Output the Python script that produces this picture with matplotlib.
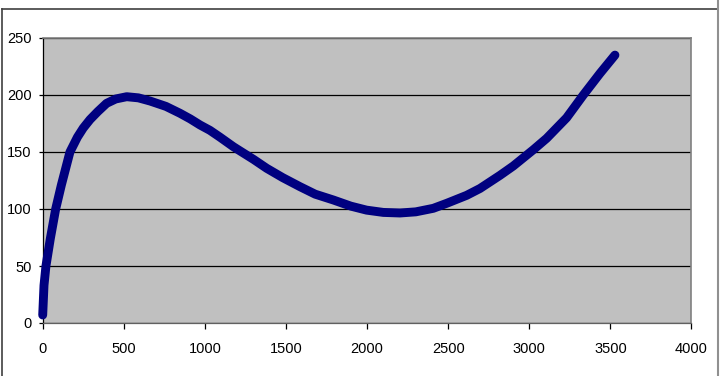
import matplotlib
matplotlib.use("Agg")
import matplotlib.pyplot as plt
from matplotlib.lines import Line2D

x_vals = [0, 8, 20, 47, 80, 115, 168, 214, 250, 292, 340, 394, 450, 518, 590,
          662, 760, 846, 910, 970, 1031, 1093, 1175, 1216, 1300, 1381, 1480,
          1586, 1680, 1792, 1900, 1997, 2100, 2203, 2300, 2408, 2491, 2614,
          2696, 2819, 2901, 3025, 3107, 3230, 3333, 3436, 3528]
y_vals = [7, 33, 50, 74, 100, 121, 150, 163, 171, 178.5, 185.5, 192.7, 196.5,
          198.5, 197.5, 194.7, 190, 184, 179, 173.7, 169, 163, 154.7, 151,
          143.5, 135.7, 127.5, 119.6, 113, 107.9, 102.5, 99, 97, 96.5, 97.5,
          100.6, 105, 112, 118, 129.5, 137.7, 152, 162, 180, 200, 219, 235]

x_ticks = [0, 500, 1000, 1500, 2000, 2500, 3000, 3500, 4000]
y_ticks = [0, 50, 100, 150, 200, 250]

W, H = 721, 376
fig = plt.figure(figsize=(W / 100, H / 100), dpi=100)
fig.patch.set_facecolor("white")

left, right, bottom, top = 42.7, 691.5, 323, 38
ax = fig.add_axes([left / W, (H - bottom) / H, (right - left) / W, (bottom - top) / H])
ax.set_facecolor("#C0C0C0")
ax.set_xlim(0, 4000)
ax.set_ylim(0, 250)
ax.set_xticks(x_ticks)
ax.set_yticks(y_ticks)
ax.set_xticklabels([str(v) for v in x_ticks])
ax.set_yticklabels([str(v) for v in y_ticks])
ax.yaxis.grid(True, color="black", linewidth=0.9)
ax.set_axisbelow(True)
for s in ["top", "right"]:
    ax.spines[s].set_color("#808080")
    ax.spines[s].set_linewidth(1.2)
for s in ["left", "bottom"]:
    ax.spines[s].set_color("black")
    ax.spines[s].set_linewidth(0.9)
ax.spines["bottom"].set_color("#606060")
ax.tick_params(axis="y", direction="out", length=3, width=0.9, pad=5,
               labelsize=10.5, colors="black")
ax.tick_params(axis="x", direction="out", length=4, width=0.9, pad=10,
               labelsize=10.5, colors="black")
for lab in ax.get_xticklabels() + ax.get_yticklabels():
    lab.set_fontfamily("Liberation Sans")

ax.plot(x_vals, y_vals, color="#000080", linewidth=6.4,
        solid_joinstyle="round", solid_capstyle="round", clip_on=False, zorder=3)

# window frame lines
fig.add_artist(Line2D([2 / W, 717 / W], [(H - 9) / H, (H - 9) / H],
                      transform=fig.transFigure, color="#404040", linewidth=1.2))
fig.add_artist(Line2D([2 / W, 2 / W], [0, (H - 9) / H],
                      transform=fig.transFigure, color="#404040", linewidth=1.2))
fig.add_artist(Line2D([718 / W, 718 / W], [0, 1],
                      transform=fig.transFigure, color="#909090", linewidth=1.5))

fig.savefig("out.png", dpi=100)
